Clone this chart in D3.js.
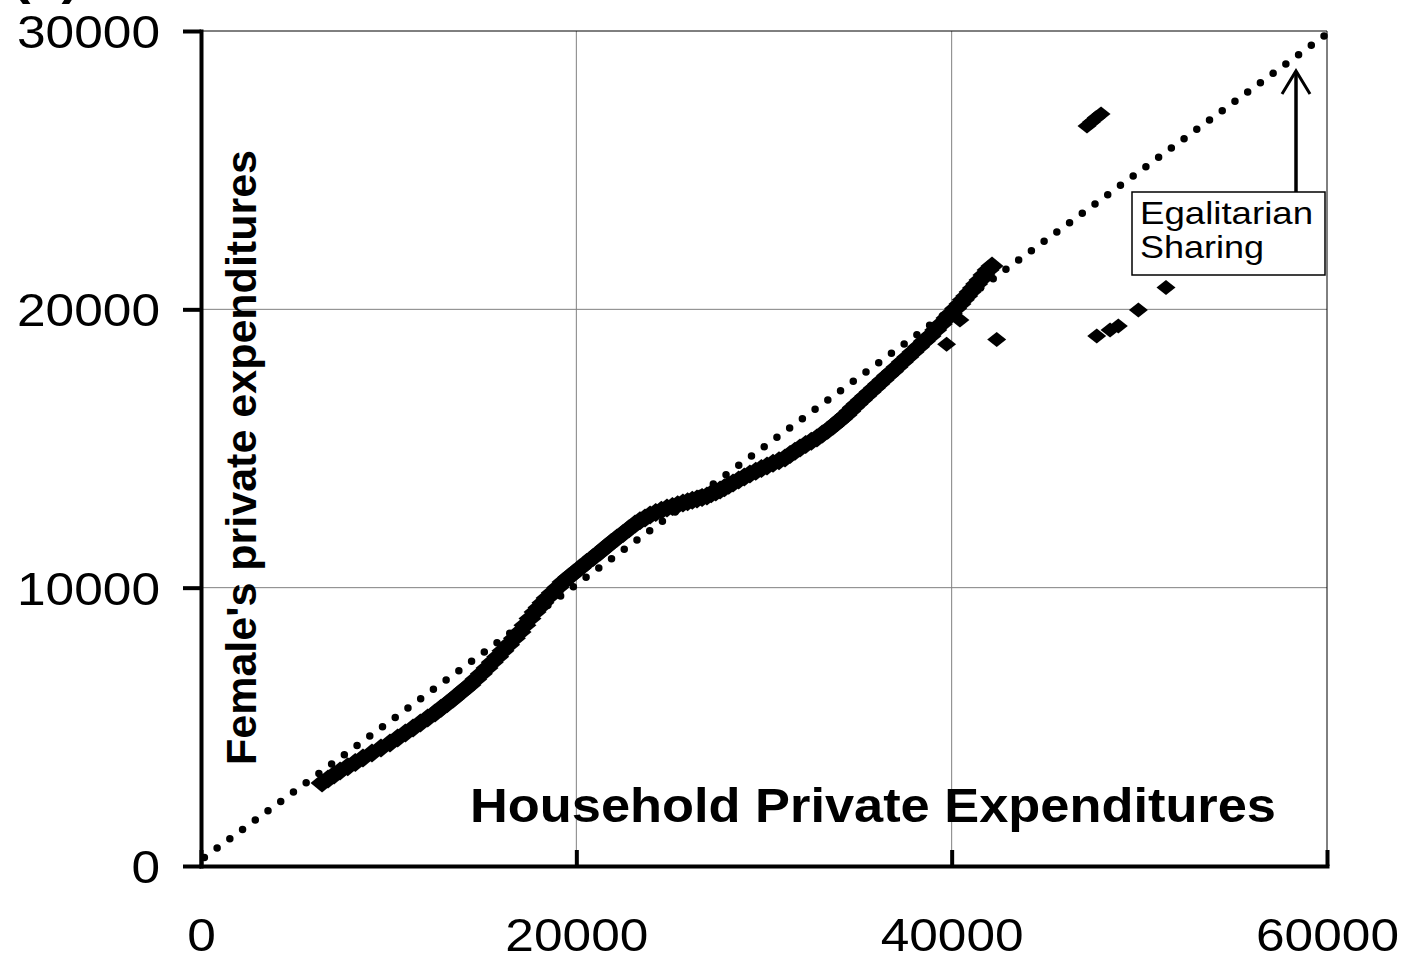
<!DOCTYPE html>
<html><head><meta charset="utf-8">
<script src="https://cdn.jsdelivr.net/npm/d3@7"></script>
<style>html,body{margin:0;padding:0;background:#fff;}svg{display:block;}</style>
</head><body>
<svg id="chart" width="1405" height="955"></svg>
<script>
// ---- data ----
const mainX = [6450,6770,7090,7410,7820,8220,8630,9110,9590,10070,
 10480,10890,11300,11690,12080,12470,12790,13110,13430,13730,
 14030,14330,14640,14940,15240,15520,15810,16090,16390,16700,
 17000,17260,17530,17800,18010,18220,18440,18720,19010,19290,
 19590,19890,20200,20550,20910,21260,21560,21870,22170,22490,
 22810,23130,23390,23660,23930,24230,24530,24830,25120,25400,
 25680,25930,26180,26430,26700,26960,27190,27430,27660,27890,
 28120,28350,28650,28950,29250,29560,29860,30160,30480,30800,
 31120,31390,31650,31920,32220,32520,32820,33110,33390,33680,
 33910,34140,34370,34570,34760,34960,35190,35420,35650,35880,
 36110,36340,36590,36840,37090,37370,37660,37940,38240,38540,
 38850,39150,39450,39750,39980,40210,40440,40620,40800,40980,
 41160,41330,41510,41720,41940,42150];
const mainY = [2980,3130,3270,3410,3570,3720,3880,4060,4240,4420,
 4600,4780,4960,5140,5320,5500,5670,5830,6000,6170,
 6340,6500,6710,6910,7110,7320,7520,7730,7950,8180,
 8410,8650,8890,9130,9290,9460,9630,9820,10010,10200,
 10370,10540,10710,10900,11090,11280,11450,11620,11780,11950,
 12120,12290,12400,12500,12610,12700,12780,12860,12920,12980,
 13040,13090,13140,13190,13240,13290,13370,13440,13510,13590,
 13680,13760,13870,13980,14080,14180,14280,14370,14470,14560,
 14660,14780,14900,15020,15140,15260,15380,15520,15660,15810,
 15940,16070,16200,16340,16470,16600,16740,16890,17030,17170,
 17320,17460,17620,17770,17930,18110,18290,18470,18660,18850,
 19040,19260,19470,19690,19860,20030,20190,20340,20480,20620,
 20770,20910,21050,21230,21410,21560];
const outX = [39730,40440,42400,47730,48440,48880,49950,51420,47210,47450,47700,47960];
const outY = [18750,19620,18920,19040,19260,19400,19980,20780,26590,26730,26880,27020];
const egalX = [0, 60000];
const egalY = [220, 29900];
const xTicks = [0, 20000, 40000, 60000];
const yTicks = [0, 10000, 20000, 30000];
const xTitle = "Household Private Expenditures";
const yTitle = "Female's private expenditures";
const noteLines = ["Egalitarian", "Sharing"];
const panelLabel = "(a)";

// ---- drawing ----
const svg = d3.select("#chart");
const FONT = "'Liberation Sans', Arial, sans-serif";
const x = d3.scaleLinear().domain([0, 60000]).range([201, 1327]);
const y = d3.scaleLinear().domain([0, 30000]).range([866, 31]);

// gridlines
svg.append("g").selectAll("line").data(xTicks.filter(d => d > 0 && d < 60000)).join("line")
  .attr("x1", d => x(d)).attr("x2", d => x(d)).attr("y1", y(30000)).attr("y2", y(0))
  .attr("stroke", "#808080").attr("stroke-width", 1);
svg.append("g").selectAll("line").data(yTicks.filter(d => d > 0 && d < 30000)).join("line")
  .attr("x1", x(0)).attr("x2", x(60000)).attr("y1", d => y(d)).attr("y2", d => y(d))
  .attr("stroke", "#808080").attr("stroke-width", 1);
// plot border (top/right)
svg.append("path")
  .attr("d", `M${x(0)},${y(30000)}H${x(60000)}V${y(0)}`)
  .attr("fill", "none").attr("stroke", "#000").attr("stroke-width", 1);

// egalitarian dotted line
const egal = egalX.map((d, i) => [d, egalY[i]]);
svg.append("path")
  .attr("d", d3.line().x(d => x(d[0])).y(d => y(d[1]))(egal))
  .attr("fill", "none").attr("stroke", "#000").attr("stroke-width", 7.5)
  .attr("stroke-linecap", "round").attr("stroke-dasharray", "0 15.78")
  .attr("stroke-dashoffset", -4.2);

// diamonds
const diamondMain = "M0,-9.5L11.5,0L0,9.5L-11.5,0Z";
const diamondOut = "M0,-7.5L9.5,0L0,7.5L-9.5,0Z";
const mainPts = mainX.map((d, i) => [d, mainY[i]]);
const outPts = outX.map((d, i) => [d, outY[i]]);
svg.append("g").selectAll("path").data(mainPts).join("path")
  .attr("d", diamondMain)
  .attr("transform", d => `translate(${x(d[0])},${y(d[1])})`)
  .attr("fill", "#000");
svg.append("g").selectAll("path").data(outPts).join("path")
  .attr("d", diamondOut)
  .attr("transform", d => `translate(${x(d[0])},${y(d[1])})`)
  .attr("fill", "#000");

// axes
const yAxis = svg.append("g").attr("transform", `translate(${x(0)},0)`)
  .call(d3.axisLeft(y).tickValues(yTicks).tickSize(18).tickSizeOuter(0).tickFormat(d => d));
const xAxis = svg.append("g").attr("transform", `translate(0,${y(0)})`)
  .call(d3.axisBottom(x).tickValues(xTicks).tickSize(-16).tickSizeOuter(0).tickFormat(d => d));
[yAxis, xAxis].forEach(g => {
  g.select(".domain").attr("stroke", "#000").attr("stroke-width", 4).attr("stroke-linecap", "square");
  g.selectAll(".tick line").attr("stroke", "#000").attr("stroke-width", 4);
});
yAxis.selectAll(".tick text")
  .attr("font-family", FONT).attr("font-size", 46).attr("fill", "#000")
  .attr("text-anchor", "start").attr("dy", null).attr("y", 16.5)
  .each(function(d) {
    const w = String(d).length * 28.6;
    d3.select(this).attr("x", -41 - w).attr("textLength", w).attr("lengthAdjust", "spacingAndGlyphs");
  });
xAxis.selectAll(".tick text")
  .attr("font-family", FONT).attr("font-size", 47).attr("fill", "#000")
  .attr("text-anchor", "start").attr("dy", null).attr("y", 85)
  .each(function(d) {
    const w = String(d).length * 28.6;
    d3.select(this).attr("x", -w / 2).attr("textLength", w).attr("lengthAdjust", "spacingAndGlyphs");
  });

// titles
svg.append("text").text(xTitle)
  .attr("x", 470).attr("y", 822)
  .attr("font-family", FONT).attr("font-weight", "bold").attr("font-size", 49)
  .attr("textLength", 806).attr("lengthAdjust", "spacingAndGlyphs");
svg.append("text").text(yTitle)
  .attr("transform", "translate(256,765) rotate(-90)")
  .attr("x", 0).attr("y", 0)
  .attr("font-family", FONT).attr("font-weight", "bold").attr("font-size", 43)
  .attr("textLength", 615).attr("lengthAdjust", "spacingAndGlyphs");

// panel label (mostly cut off at top)
svg.append("text").text(panelLabel)
  .attr("x", 12).attr("y", -6.5)
  .attr("font-family", FONT).attr("font-weight", "bold").attr("font-size", 50)
  .attr("textLength", 68).attr("lengthAdjust", "spacingAndGlyphs");

// annotation box
svg.append("rect").attr("x", 1132).attr("y", 192).attr("width", 193).attr("height", 83)
  .attr("fill", "#fff").attr("stroke", "#000").attr("stroke-width", 1.5);
const noteLens = [173, 124];
noteLines.forEach((t, i) => {
  svg.append("text").text(t)
    .attr("x", 1140).attr("y", 224 + i * 34)
    .attr("font-family", FONT).attr("font-size", 32)
    .attr("textLength", noteLens[i]).attr("lengthAdjust", "spacingAndGlyphs");
});
// arrow
svg.append("path").attr("d", "M1296,192V71").attr("stroke", "#000").attr("stroke-width", 3.5).attr("fill", "none");
svg.append("path").attr("d", "M1282,94L1296,71L1310,94").attr("stroke", "#000").attr("stroke-width", 3)
  .attr("fill", "none").attr("stroke-linejoin", "miter");
</script>
</body></html>
